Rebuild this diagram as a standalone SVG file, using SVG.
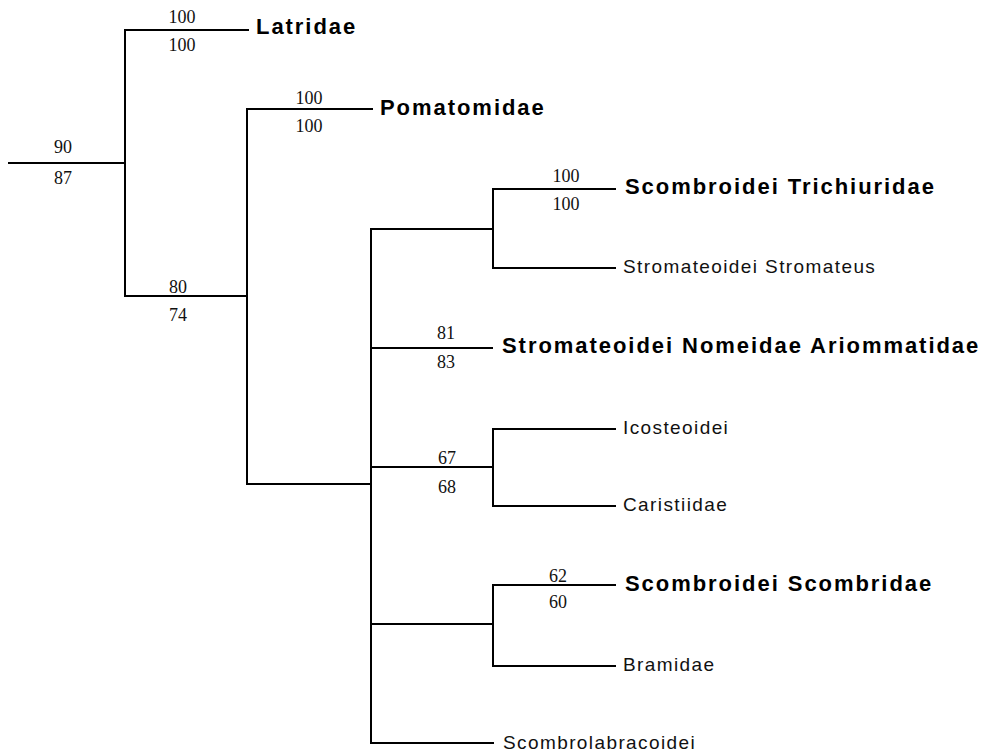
<svg xmlns="http://www.w3.org/2000/svg" width="987" height="752" viewBox="0 0 987 752">
  <style>
    .br { stroke: #000; stroke-width: 2; fill: none; stroke-linecap: square; }
    .sup { font-family: "Liberation Serif", "Times New Roman", serif; font-size: 18px; fill: #111; text-anchor: middle; }
    .tb { font-family: "Liberation Sans", Arial, sans-serif; font-size: 22px; font-weight: bold; letter-spacing: 1.95px; fill: #000; }
    .tr { font-family: "Liberation Sans", Arial, sans-serif; font-size: 19px; letter-spacing: 1.4px; fill: #111; }
  </style>
  <rect width="987" height="752" fill="#fff"/>

  <!-- tree branches -->
  <g id="connectors" class="br">
    <path d="M9,163 H125"/>
    <path d="M248,30 H125 V296 H247"/>
    <path d="M372,109 H247 V484 H371"/>
    <path d="M371,229 V743 H493"/>
    <path d="M371,229 H493"/>
    <path d="M615,189 H493 V268 H615"/>
    <path d="M371,348 H492"/>
    <path d="M371,467 H493"/>
    <path d="M615,429 H493 V506 H615"/>
    <path d="M371,624 H493"/>
    <path d="M615,585 H493 V666 H615"/>
  </g>

  <!-- support values on internal branches, taxon names at the tips -->
  <g id="node-root">
    <text class="sup" x="63" y="153">90</text>
    <text class="sup" x="63" y="184">87</text>
  </g>
  <g id="node-latridae">
    <text class="sup" x="182" y="23">100</text>
    <text class="sup" x="182" y="51">100</text>
    <text class="tb" x="256" y="34">Latridae</text>
  </g>
  <g id="node-80">
    <text class="sup" x="178" y="293">80</text>
    <text class="sup" x="178" y="321">74</text>
  </g>
  <g id="node-pomatomidae">
    <text class="sup" x="309" y="104">100</text>
    <text class="sup" x="309" y="132">100</text>
    <text class="tb" x="380" y="115">Pomatomidae</text>
  </g>
  <g id="node-trichiuridae">
    <text class="sup" x="566" y="182">100</text>
    <text class="sup" x="566" y="210">100</text>
    <text class="tb" x="625" y="194">Scombroidei Trichiuridae</text>
  </g>
  <g id="node-stromateus">
    <text class="tr" x="623" y="273">Stromateoidei Stromateus</text>
  </g>
  <g id="node-nomeidae">
    <text class="sup" x="446" y="339">81</text>
    <text class="sup" x="446" y="368">83</text>
    <text class="tb" x="502" y="353">Stromateoidei Nomeidae Ariommatidae</text>
  </g>
  <g id="node-67">
    <text class="sup" x="447" y="464">67</text>
    <text class="sup" x="447" y="493">68</text>
  </g>
  <g id="node-icosteoidei">
    <text class="tr" x="623" y="434">Icosteoidei</text>
  </g>
  <g id="node-caristiidae">
    <text class="tr" x="623" y="511">Caristiidae</text>
  </g>
  <g id="node-scombridae">
    <text class="sup" x="558" y="582">62</text>
    <text class="sup" x="558" y="608">60</text>
    <text class="tb" x="625" y="591">Scombroidei Scombridae</text>
  </g>
  <g id="node-bramidae">
    <text class="tr" x="623" y="671">Bramidae</text>
  </g>
  <g id="node-scombrolabracoidei">
    <text class="tr" x="503" y="749">Scombrolabracoidei</text>
  </g>
</svg>
